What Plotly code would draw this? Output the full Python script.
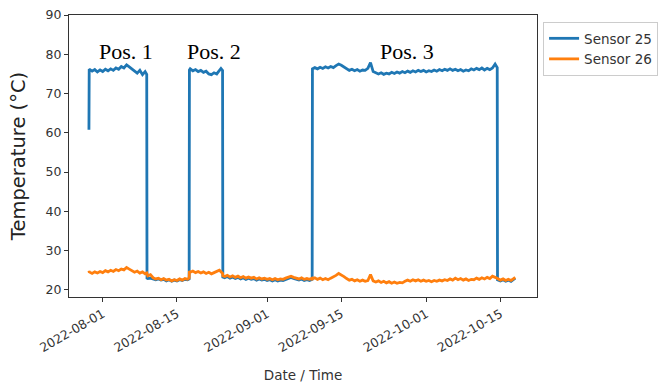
import pandas as pd
import plotly.graph_objects as go

# Day offsets from 2022-08-01 00:00, and readings for each sensor (°C)
# Position 1 heating
day_pos1 = [-2.6, -2.55, -2.0, -1.5, -1.0, -0.5, 0.0, 0.5, 1.0, 1.5, 2.0, 2.5,
            3.0, 3.5, 4.0, 4.5, 5.0, 5.5, 6.0, 6.5, 7.0, 7.5, 8.0, 8.3]
s25_pos1 = [60.8, 76.2, 75.7, 76.1, 75.5, 76.0, 75.6, 76.2, 75.8, 76.3, 75.9, 76.5,
            76.2, 76.9, 76.5, 77.3, 76.8, 76.3, 75.7, 75.2, 75.9, 74.8, 75.6, 74.9]
s26_pos1 = [24.9, 24.6, 24.2, 24.6, 24.3, 24.7, 24.4, 24.9, 24.6, 25.0, 24.7, 25.2,
            24.9, 25.3, 25.1, 25.7, 25.3, 24.9, 24.5, 24.8, 24.3, 24.6, 24.1, 24.3]

# Off between Pos. 1 and Pos. 2
day_off1 = [8.35, 8.5, 9.0, 9.5, 10.0, 10.5, 11.0, 11.5, 12.0, 12.5, 13.0, 13.5,
            14.0, 14.5, 15.0, 15.5, 16.0, 16.3]
s25_off1 = [23.0, 22.9, 23.0, 22.8, 22.6, 22.8, 22.5, 22.7, 22.3, 22.6, 22.2, 22.5,
            22.3, 22.6, 22.4, 22.7, 22.6, 22.8]
s26_off1 = [24.0, 23.6, 23.9, 23.1, 22.8, 23.0, 22.6, 22.9, 22.5, 22.7, 22.3, 22.6,
            22.4, 22.8, 22.5, 22.9, 22.7, 23.0]

# Position 2 heating
day_pos2 = [16.35, 16.5, 17.0, 17.5, 18.0, 18.5, 19.0, 19.5, 20.0, 20.5, 21.0, 21.5,
            22.0, 22.3, 22.6]
s25_pos2 = [76.0, 76.3, 75.8, 76.1, 75.6, 75.9, 75.4, 75.7, 75.0, 74.8, 75.3, 75.0,
            75.8, 76.4, 75.9]
s26_pos2 = [24.8, 24.5, 24.8, 24.4, 24.7, 24.3, 24.6, 24.2, 24.5, 24.1, 24.4, 24.6,
            25.0, 24.6, 24.2]

# Off between Pos. 2 and Pos. 3
day_off2 = [22.65, 23.0, 23.5, 24.0, 24.5, 25.0, 25.5, 26.0, 26.5, 27.0, 27.5, 28.0,
            28.5, 29.0, 29.5, 30.0, 30.5, 31.0, 31.5, 32.0, 32.5, 33.0, 33.5, 34.0,
            34.5, 35.0, 35.5, 36.0, 36.5, 37.0, 37.5, 38.0, 38.5, 39.0, 39.5]
s25_off2 = [23.3, 23.1, 23.4, 23.0, 23.3, 22.9, 23.2, 22.8, 23.1, 22.7, 23.0, 22.7,
            22.9, 22.5, 22.8, 22.5, 22.7, 22.4, 22.6, 22.3, 22.6, 22.3, 22.5, 22.4,
            22.7, 22.9, 23.2, 22.9, 22.7, 22.5, 22.8, 22.4, 22.6, 22.4, 22.7]
s26_off2 = [23.6, 23.4, 23.7, 23.3, 23.6, 23.2, 23.5, 23.1, 23.4, 23.0, 23.3, 23.0,
            23.2, 22.8, 23.1, 22.8, 23.0, 22.7, 22.9, 22.6, 22.9, 22.6, 22.8, 22.7,
            23.0, 23.2, 23.5, 23.2, 23.0, 22.8, 23.1, 22.7, 22.9, 22.7, 23.0]

# Position 3 heating
day_pos3 = [39.55, 40.0, 40.5, 41.0, 41.5, 42.0, 42.5, 43.0, 43.5, 44.0, 44.5, 45.0,
            45.5, 46.0, 46.5, 47.0, 47.5, 48.0, 48.5, 49.0, 49.5, 50.0, 50.5, 51.0,
            51.5, 52.0, 52.5, 53.0, 53.5, 54.0, 54.5, 55.0, 55.5, 56.0, 56.5, 57.0,
            57.5, 58.0, 58.5, 59.0, 59.5, 60.0, 60.5, 61.0, 61.5, 62.0, 62.5, 63.0,
            63.5, 64.0, 64.5, 65.0, 65.5, 66.0, 66.5, 67.0, 67.5, 68.0, 68.5, 69.0,
            69.5, 70.0, 70.5, 71.0, 71.5, 72.0, 72.5, 73.0, 73.5, 74.0, 74.4]
s25_pos3 = [76.3, 76.6, 76.3, 76.7, 76.4, 76.8, 76.5, 76.9, 76.6, 77.1, 77.5, 77.2,
            76.8, 76.3, 75.9, 76.2, 75.8, 76.1, 75.7, 76.0, 75.9, 76.4, 77.9, 75.6,
            75.3, 75.0, 75.3, 74.9, 75.2, 75.0, 75.4, 75.1, 75.5, 75.2, 75.6, 75.3,
            75.7, 75.4, 75.8, 75.5, 75.9, 75.6, 75.9, 75.5, 75.8, 75.6, 76.0, 75.7,
            76.1, 75.8, 76.2, 75.9, 76.3, 75.9, 76.2, 75.8, 76.1, 75.7, 76.0, 75.8,
            76.3, 76.0, 76.4, 76.1, 76.5, 76.0, 76.4, 76.1, 76.5, 77.5, 76.6]
s26_pos3 = [22.8, 23.1, 22.7, 23.0, 22.6, 22.9, 22.6, 23.0, 23.3, 23.7, 24.2, 23.9,
            23.4, 22.9, 22.5, 22.7, 22.3, 22.6, 22.2, 22.5, 22.2, 22.4, 23.9, 22.3,
            22.0, 22.3, 21.9, 22.2, 21.8, 22.1, 21.7, 22.0, 21.7, 21.9, 21.8, 22.2,
            22.5, 22.2, 22.6, 22.3, 22.6, 22.2, 22.5, 22.2, 22.4, 22.1, 22.4, 22.2,
            22.5, 22.3, 22.6, 22.4, 22.8, 22.5, 23.0, 22.6, 22.9, 22.5, 22.8, 22.4,
            22.7, 22.6, 23.0, 22.7, 23.1, 22.8, 23.2, 22.9, 23.5, 23.2, 22.9]

# Off after Pos. 3
day_off3 = [74.45, 75.0, 75.5, 76.0, 76.5, 77.0, 77.5, 77.8]
s25_off3 = [22.6, 22.3, 22.6, 22.2, 22.5, 22.2, 22.7, 23.0]
s26_off3 = [22.8, 22.5, 22.8, 22.4, 22.7, 22.4, 22.9, 23.2]

tick_dates = ["2022-08-01", "2022-08-15", "2022-09-01", "2022-09-15", "2022-10-01", "2022-10-15"]
y_ticks = [20, 30, 40, 50, 60, 70, 80, 90]
labels = [("Pos. 1", 4.3), ("Pos. 2", 21.0), ("Pos. 3", 57.4)]

days = day_pos1 + day_off1 + day_pos2 + day_off2 + day_pos3 + day_off3
s25 = s25_pos1 + s25_off1 + s25_pos2 + s25_off2 + s25_pos3 + s25_off3
s26 = s26_pos1 + s26_off1 + s26_pos2 + s26_off2 + s26_pos3 + s26_off3
assert len(days) == len(s25) == len(s26)

base = pd.Timestamp("2022-08-01")
t = [base + pd.Timedelta(days=d) for d in days]

fig = go.Figure()
fig.add_trace(go.Scatter(x=t, y=s25, mode="lines", name="Sensor 25",
                         line=dict(color="#1f77b4", width=2.8)))
fig.add_trace(go.Scatter(x=t, y=s26, mode="lines", name="Sensor 26",
                         line=dict(color="#ff7f0e", width=2.8)))

for txt, d in labels:
    fig.add_annotation(x=base + pd.Timedelta(days=d), y=80.6, text=txt, showarrow=False,
                       xanchor="center", yanchor="middle",
                       font=dict(family="Liberation Serif", size=22, color="black"))

axis_common = dict(showline=True, linecolor="#333", linewidth=1, mirror=True,
                   ticks="outside", ticklen=4, tickcolor="#333", showgrid=False,
                   zeroline=False, ticklabeloverflow="allow",
                   tickfont=dict(family="DejaVu Sans", size=12.5, color="#333"))

fig.update_xaxes(type="date",
                 range=[base + pd.Timedelta(days=-6.36), base + pd.Timedelta(days=81.9)],
                 tickvals=tick_dates, ticktext=tick_dates, tickangle=-30,
                 title=dict(text="Date / Time", font=dict(family="DejaVu Sans", size=13.5, color="#333"),
                            standoff=16),
                 **axis_common)
fig.update_yaxes(range=[18.2, 90], tickvals=y_ticks,
                 title=dict(text="Temperature (°C)", font=dict(family="DejaVu Sans", size=19.5, color="#222"),
                            standoff=14),
                 **axis_common)

fig.update_layout(
    width=661, height=385,
    margin=dict(l=69, r=124, t=15, b=88, autoexpand=False),
    paper_bgcolor="white", plot_bgcolor="white",
    showlegend=True,
    legend=dict(x=1.013, y=0.975, xanchor="left", yanchor="top",
                bordercolor="#cccccc", borderwidth=1, bgcolor="white",
                font=dict(family="DejaVu Sans", size=13.5, color="#333"),
                tracegroupgap=0, itemwidth=30),
)

# remove the browser's default 8px body margin so the figure fills the window
fig.write_html("out.html",
               config={"displayModeBar": False},
               post_script="document.body.style.margin='0';document.body.style.overflow='hidden';")
